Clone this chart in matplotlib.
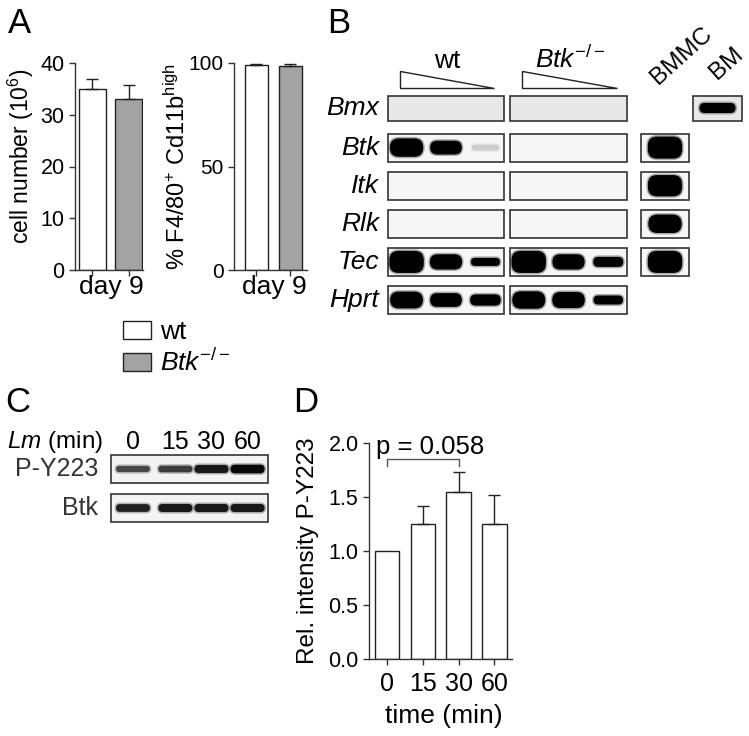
import numpy as np
import matplotlib
matplotlib.use("Agg")
import matplotlib.pyplot as plt
from matplotlib.patches import Rectangle, FancyBboxPatch, Polygon, Patch
from matplotlib.ticker import FormatStrFormatter

plt.rcParams['font.family'] = ['Liberation Sans', 'DejaVu Sans']
plt.rcParams['mathtext.fontset'] = 'custom'
plt.rcParams['mathtext.rm'] = 'Liberation Sans'
plt.rcParams['mathtext.it'] = 'Liberation Sans:italic'
plt.rcParams['mathtext.bf'] = 'Liberation Sans:bold'

# --- data (A) ---
a_groups = ['wt', r'$\mathit{Btk}^{-/-}$']
a_colors = ['white', '#a3a3a3']
cell_number = [35.0, 33.0]
cell_number_err = [1.9, 2.7]
f480_pct = [99.0, 98.4]
f480_err = [0.7, 1.3]

# --- data (B), band strength per lane, 0 = no band ---
blot_genes = ['Bmx', 'Btk', 'Itk', 'Rlk', 'Tec', 'Hprt']
blot_wt = [[0, 0, 0], [0.85, 0.7, 0.3], [0, 0, 0], [0, 0, 0], [0.95, 0.75, 0.45], [0.8, 0.7, 0.6]]
blot_ko = [[0, 0, 0], [0, 0, 0], [0, 0, 0], [0, 0, 0], [0.95, 0.75, 0.55], [0.82, 0.78, 0.5]]
blot_bmmc = [None, 0.95, 0.93, 0.85, 0.95, None]
blot_bm = [0.55, None, None, None, None, None]

# --- data (C) ---
c_lanes = ['0', '15', '30', '60']
c_py223 = [0.55, 0.62, 0.85, 0.95]
c_btk = [0.8, 0.85, 0.85, 0.85]

# --- data (D) ---
d_times = ['0', '15', '30', '60']
d_intensity = [1.0, 1.25, 1.55, 1.25]
d_err = [0.0, 0.17, 0.18, 0.27]
p_text = 'p = 0.058'

W, H = 749, 736
fig = plt.figure(figsize=(W / 100, H / 100), dpi=100)
ink = '#222222'


def px_axes(x0, y0, x1, y1):
    # axes placed in pixel coordinates (origin top-left)
    return fig.add_axes([x0 / W, 1 - y1 / H, (x1 - x0) / W, (y1 - y0) / H])


def style_axes(ax, ysize):
    for s in ['top', 'right']:
        ax.spines[s].set_visible(False)
    for s in ['left', 'bottom']:
        ax.spines[s].set_linewidth(1.0)
        ax.spines[s].set_color('#333333')
    ax.tick_params(direction='out', length=4.5, width=1.0, color='#333333',
                   labelsize=ysize, pad=3)
    ax.patch.set_alpha(0)


def up_errorbars(ax, xs, vals, errs):
    # only the upper whisker, like GraphPad
    xs, vals, errs = np.asarray(xs), np.asarray(vals), np.asarray(errs)
    m = errs > 0
    ax.errorbar(xs[m], vals[m], yerr=[np.zeros(m.sum()), errs[m]], fmt='none',
                ecolor=ink, elinewidth=1.0, capsize=4.3, capthick=1.0)


# overlay for blots and panel letters
ov = px_axes(0, 0, W, H)
ov.set_xlim(0, W)
ov.set_ylim(H, 0)
ov.axis('off')

# ---------- A ----------
x = np.arange(len(cell_number))
ax1 = px_axes(75, 63, 143, 270)
style_axes(ax1, 15.5)
ax1.bar(x, cell_number, width=0.75, color=a_colors, edgecolor=ink, linewidth=1.0)
up_errorbars(ax1, x, cell_number, cell_number_err)
ax1.set_ylim(0, 40)
ax1.set_yticks([0, 10, 20, 30, 40])
ax1.set_xlim(-0.48, 1.39)
ax1.set_xticks(x)
ax1.set_xticklabels([])
ax1.set_xlabel('day 9', fontsize=19)
ax1.xaxis.set_label_coords(0.53, -0.025)
ax1.set_ylabel('cell number (10$^6$)', fontsize=16.5)
ax1.yaxis.set_label_coords(-0.57, 0.55)

ax2 = px_axes(234, 63, 307, 270)
style_axes(ax2, 15)
ax2.bar(x, f480_pct, width=0.67, color=a_colors, edgecolor=ink, linewidth=1.0)
up_errorbars(ax2, x, f480_pct, f480_err)
ax2.set_ylim(0, 100)
ax2.set_yticks([0, 50, 100])
ax2.set_xlim(-0.65, 1.49)
ax2.set_xticks(x)
ax2.set_xticklabels([])
ax2.set_xlabel('day 9', fontsize=19)
ax2.xaxis.set_label_coords(0.55, -0.025)
ax2.set_ylabel(r'% F4/80$^{+}$ Cd11b$^{\mathrm{high}}$', fontsize=17)
ax2.yaxis.set_label_coords(-0.61, 0.5)

handles = [Patch(facecolor=c, edgecolor=ink, linewidth=1.0) for c in a_colors]
fig.legend(handles, a_groups, loc='upper left', bbox_to_anchor=(123 / W, 1 - 320 / H),
           frameon=False, fontsize=19, handlelength=1.05, handleheight=0.65,
           handletextpad=0.35, labelspacing=0.2, borderpad=0, borderaxespad=0)

# ---------- B ----------
def band(xc, yc, v, w0=24, wk=11, h0=4, hk=20):
    if v is None or v <= 0:
        return
    w = w0 + wk * v
    h = h0 + hk * v ** 2
    dark = min(1.0, (v / 0.45) ** 4)
    g = 1 - dark
    r = min(h / 2, 9)
    ov.add_patch(FancyBboxPatch((xc - w / 2 - 1.5, yc - h / 2 - 1.5), w + 3, h + 3,
                                boxstyle=f"round,pad=0,rounding_size={r + 1.5}",
                                fc=(g, g, g), ec='none', alpha=0.3))
    ov.add_patch(FancyBboxPatch((xc - w / 2, yc - h / 2), w, h,
                                boxstyle=f"round,pad=0,rounding_size={r}",
                                fc=(g, g, g), ec='none'))


def blot_box(x0, x1, top, h, bg):
    ov.add_patch(Rectangle((x0, top), x1 - x0, h, fc=bg, ec='#333333', lw=1.2))


boxes = {'wt': (388, 504), 'ko': (510, 627), 'bmmc': (641, 689), 'bm': (693, 742)}
lane_frac = [0.16, 0.5, 0.84]
for i, gene in enumerate(blot_genes):
    top = 95.5 + 38.1 * i
    h = 25 if i == 0 else 28
    yc = top + h / 2
    bg = '#e8e8e8' if i == 0 else '#f6f6f6'
    ov.text(379, yc, gene, ha='right', va='center', style='italic', fontsize=19)
    for key, vals in (('wt', blot_wt[i]), ('ko', blot_ko[i])):
        x0, x1 = boxes[key]
        blot_box(x0, x1, top, h, bg)
        for f, v in zip(lane_frac, vals):
            band(x0 + f * (x1 - x0), yc, v)
    if blot_bmmc[i] is not None:
        x0, x1 = boxes['bmmc']
        blot_box(x0, x1, top, h, bg)
        band((x0 + x1) / 2, yc, blot_bmmc[i])
    if blot_bm[i] is not None:
        x0, x1 = boxes['bm']
        blot_box(x0, x1, top, h, bg)
        band((x0 + x1) / 2, yc, blot_bm[i], w0=30)

for key in ('wt', 'ko'):
    x0, x1 = boxes[key]
    ov.add_patch(Polygon([(x0 + 12, 71), (x0 + 12, 88), (x1 - 10, 88)], closed=True,
                         fc='white', ec=ink, lw=1.0))
ov.text(447, 61, 'wt', ha='center', va='center', fontsize=19)
ov.text(570, 59, r'$\mathit{Btk}^{-/-}$', ha='center', va='center', fontsize=19)
ov.text(682, 56, 'BMMC', rotation=42, ha='center', va='center', fontsize=17.5)
ov.text(727, 63, 'BM', rotation=42, ha='center', va='center', fontsize=17.5)

# ---------- C ----------
c_box = (111, 268)
c_frac = [0.14, 0.41, 0.64, 0.87]
for label, vals, top in (('P-Y223', c_py223, 455), ('Btk', c_btk, 494)):
    blot_box(c_box[0], c_box[1], top, 28, '#f3f3f3')
    yc = top + 14
    ov.text(98, yc, label, ha='right', va='center', fontsize=18, color='#333333')
    for f, v in zip(c_frac, vals):
        xc = c_box[0] + f * (c_box[1] - c_box[0])
        hb = 3 + 6 * v
        g = 0.62 - 0.62 * v
        ov.add_patch(FancyBboxPatch((xc - 18.5, yc - hb / 2 - 1.5), 37, hb + 3,
                                    boxstyle=f"round,pad=0,rounding_size={hb / 2 + 1.5}",
                                    fc=(g, g, g), ec='none', alpha=0.3))
        ov.add_patch(FancyBboxPatch((xc - 17, yc - hb / 2), 34, hb,
                                    boxstyle=f"round,pad=0,rounding_size={hb / 2}",
                                    fc=(g, g, g), ec='none'))
for f, lab in zip(c_frac, c_lanes):
    ov.text(c_box[0] + f * (c_box[1] - c_box[0]), 442, lab, ha='center', va='center', fontsize=18)
ov.text(103, 442, r'$\mathit{Lm}$ (min)', ha='right', va='center', fontsize=17.5)

# ---------- D ----------
xd = np.arange(len(d_intensity))
axd = px_axes(369, 443, 512, 659)
style_axes(axd, 15.5)
axd.bar(xd, d_intensity, width=0.68, color='white', edgecolor=ink, linewidth=1.0)
up_errorbars(axd, xd, d_intensity, d_err)
axd.set_ylim(0, 2.0)
axd.set_yticks([0, 0.5, 1.0, 1.5, 2.0])
axd.yaxis.set_major_formatter(FormatStrFormatter('%.1f'))
axd.set_xlim(-0.5, 3.49)
axd.set_xticks(xd)
axd.set_xticklabels(d_times, fontsize=18)
axd.tick_params(axis='x', pad=5)
axd.set_xlabel('time (min)', fontsize=19)
axd.xaxis.set_label_coords(0.52, -0.21)
axd.set_ylabel('Rel. intensity P-Y223', fontsize=17.5)
axd.yaxis.set_label_coords(-0.35, 0.5)
axd.plot([0, 0, 2, 2], [1.79, 1.85, 1.85, 1.79], color='#555555', lw=1.0, clip_on=False)
axd.text(1.2, 1.9, p_text, ha='center', va='baseline', fontsize=18.5, clip_on=False)

# panel letters
for letter, px, py in (('A', 8, 33), ('B', 327, 33), ('C', 5, 412), ('D', 293, 412)):
    ov.text(px, py, letter, ha='left', va='baseline', fontsize=25)

fig.savefig('out.png', dpi=100)
